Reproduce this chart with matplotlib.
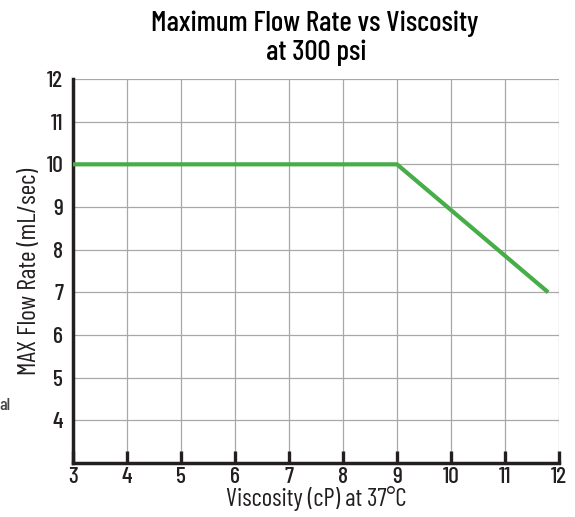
import matplotlib
matplotlib.use("Agg")
import matplotlib.pyplot as plt

plt.rcParams['font.family'] = ['Barlow Condensed', 'DejaVu Sans']
plt.rcParams['font.weight'] = 'medium'

viscosity = [3, 9, 11.8]
flow_rate = [10, 10, 7]
x_ticks = [3, 4, 5, 6, 7, 8, 9, 10, 11, 12]
y_ticks = [4, 5, 6, 7, 8, 9, 10, 11, 12]
title_lines = ['Maximum Flow Rate vs Viscosity', 'at 300 psi']

W, H = 575, 517
dark = '#231f20'
fig = plt.figure(figsize=(W / 100, H / 100), dpi=100)
ax = fig.add_axes([73/W, 1-463/H, (559-73)/W, (463-79)/H])

ax.plot(viscosity, flow_rate, color='#46ad48', lw=3.0, solid_capstyle='butt',
        solid_joinstyle='miter', zorder=3)

ax.set_xlim(3, 12)
ax.set_ylim(3, 12)
ax.set_xticks(x_ticks)
ax.set_yticks(y_ticks)
ax.grid(True, color='#a8a8a8', lw=0.9)
ax.set_axisbelow(True)
for s in ['top', 'right']:
    ax.spines[s].set_visible(False)
for s in ['left', 'bottom']:
    ax.spines[s].set_color(dark)
    ax.spines[s].set_linewidth(2.5)
    ax.spines[s].set_capstyle('projecting')
ax.tick_params(axis='x', direction='in', length=8.5, width=2.4, color=dark,
               labelsize=17, labelcolor=dark, pad=3)
ax.tick_params(axis='y', length=0, labelsize=17, labelcolor=dark, pad=7)

ax.set_xlabel('Viscosity (cP) at 37°C', fontsize=18, color=dark, labelpad=-1)
ax.set_ylabel('MAX Flow Rate (mL/sec)', fontsize=18.5, color=dark, labelpad=4)

fig.text(315/W, 1-31/H, title_lines[0], fontsize=21, color='black',
         ha='center', va='baseline')
fig.text(316/W, 1-60/H, title_lines[1], fontsize=21, color='black',
         ha='center', va='baseline')

fig.text(11/W, 1-405/H, 'al', fontsize=13, color='#444444', ha='right', va='center')

fig.savefig('out.png', dpi=100)
